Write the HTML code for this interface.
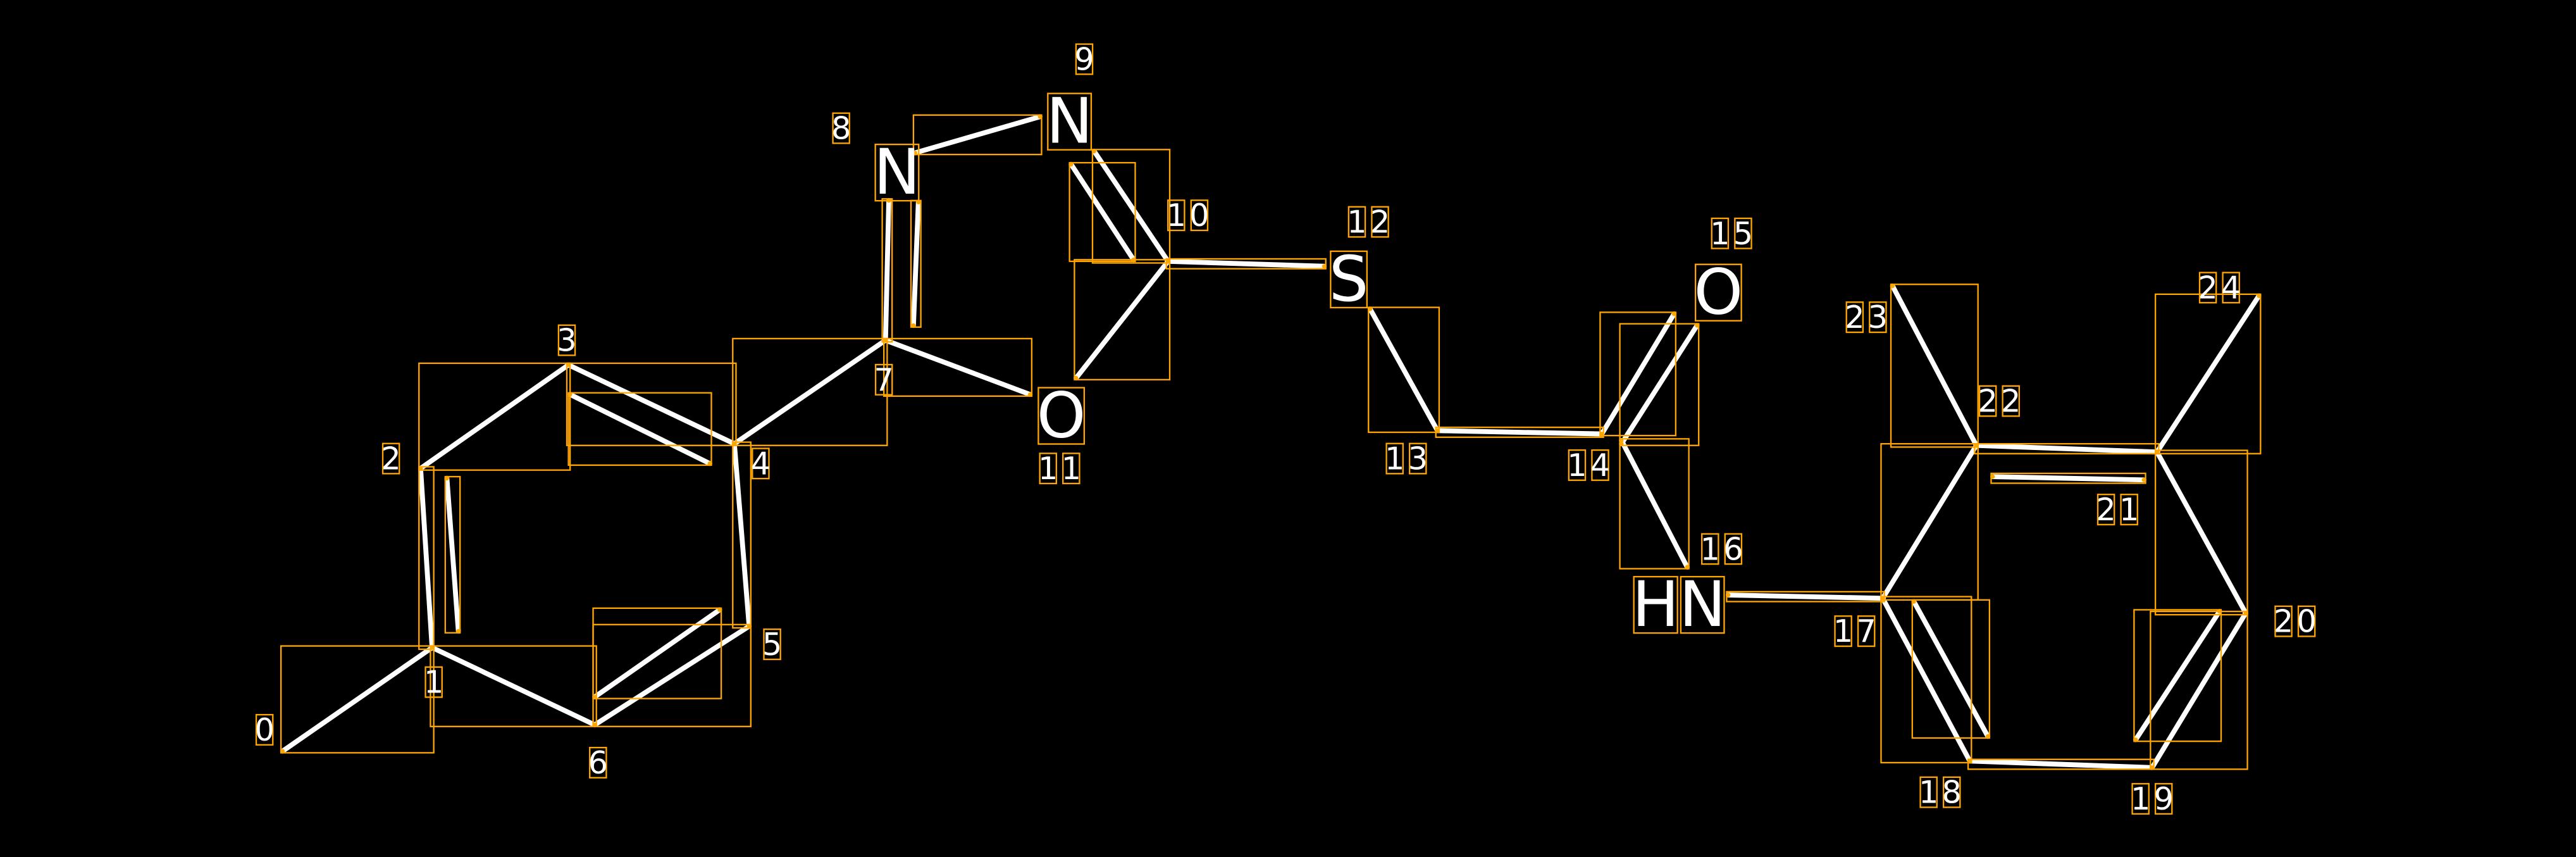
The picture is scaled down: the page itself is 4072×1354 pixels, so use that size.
<!DOCTYPE html>
<html><head><meta charset="utf-8"><style>
html,body{margin:0;padding:0;background:#000;width:4072px;height:1354px;overflow:hidden}
svg{display:block}
text{font-family:"DejaVu Sans","Liberation Sans",sans-serif;fill:#fff;dominant-baseline:central;text-anchor:middle}
.d{font-size:19px;letter-spacing:2px}
.a{font-size:38px}
</style></head><body>
<svg id="s" width="4072" height="1354" viewBox="0 0 1568 521.4" xmlns="http://www.w3.org/2000/svg">
<g id="bonds" stroke="#fff" stroke-width="3" stroke-linecap="round"></g>
<g id="boxes" fill="none" stroke="#ffa500" stroke-width="0.9"></g>
<g id="labels">
<text class="d" x="162" y="444">0</text>
<text class="d" x="265" y="415">1</text>
<text class="d" x="239" y="279">2</text>
<text class="d" x="346" y="207">3</text>
<text class="d" x="464" y="282">4</text>
<text class="d" x="471" y="392">5</text>
<text class="d" x="365" y="464">6</text>
<text class="d" x="539" y="231">7</text>
<text class="d" x="513" y="78">8</text>
<text class="d" x="661" y="36">9</text>
<text class="d" x="724" y="131">10</text>
<text class="d" x="646" y="285">11</text>
<text class="d" x="834" y="135">12</text>
<text class="d" x="857" y="279">13</text>
<text class="d" x="968" y="283">14</text>
<text class="d" x="1055" y="142">15</text>
<text class="d" x="1049" y="334">16</text>
<text class="d" x="1130" y="384">17</text>
<text class="d" x="1182" y="482">18</text>
<text class="d" x="1311" y="486">19</text>
<text class="d" x="1398" y="378">20</text>
<text class="d" x="1290" y="310">21</text>
<text class="d" x="1218" y="244">22</text>
<text class="d" x="1137" y="193">23</text>
<text class="d" x="1352" y="175">24</text>
<text class="a" x="546" y="105">N</text>
<text class="a" x="651" y="74">N</text>
<text class="a" x="646" y="253">O</text>
<text class="a" x="821" y="170">S</text>
<text class="a" x="1046" y="178">O</text>
<text class="a" x="1022" y="368">HN</text>
</g>
</svg>
<script>
var B=[
[172,457,263,394],[263,394,256,285],[272,291,279,384],[256,285,346,222],[346,222,447,270],
[347,240,432,282],[447,270,456,381],[456,381,362,441],[438,371,362,424],[362,441,263,394],
[447,270,539,207],[539,207,541,122],[559,123,556,198],[557,93,633,71],[666,92,711,159],
[652,100,690,158],[539,207,627,240],[711,159,655,230],[711,159,806,162],[834,188,875,262],
[875,262,975,264],[975,264,1019,191],[987,270,1033,198],[987,268,1027,345],[1052,362,1146,364],
[1146,364,1203,271],[1203,271,1152,174],[1203,271,1313,275],[1213,290,1305,292],[1313,275,1375,180],
[1313,275,1367,373],[1367,373,1310,467],[1351,372,1300,450],[1310,467,1199,463],[1199,463,1146,364],
[1165,366,1210,448]];
var ns="http://www.w3.org/2000/svg",bg=document.getElementById("bonds"),bx=document.getElementById("boxes");
function el(t,a,p){var e=document.createElementNS(ns,t);for(var k in a)e.setAttribute(k,a[k]);p.appendChild(e);return e;}
B.forEach(function(b){
 el("line",{x1:b[0],y1:b[1],x2:b[2],y2:b[3]},bg);
 var x=Math.min(b[0],b[2])-1,y=Math.min(b[1],b[3])-1,w=Math.abs(b[2]-b[0])+2,h=Math.abs(b[3]-b[1])+2;
 if(w<6){x-=(6-w)/2;w=6;} if(h<6){y-=(6-h)/2;h=6;}
 el("rect",{x:x,y:y,width:w,height:h},bx);
 el("circle",{cx:b[0],cy:b[1],r:1.3,fill:"#ffa500",stroke:"none"},bx);
 el("circle",{cx:b[2],cy:b[3],r:1.3,fill:"#ffa500",stroke:"none"},bx);
});
document.querySelectorAll("#labels text").forEach(function(t){
 var n=t.getNumberOfChars();
 for(var i=0;i<n;i++){var r=t.getExtentOfChar(i);
  var pad=t.classList.contains("a")?-3:0;
  el("rect",{x:r.x+1,y:r.y-pad+2,width:Math.max(r.width-2-(t.classList.contains("d")?2:0),4),height:r.height+2*pad-4},bx);}
});
</script>
</body></html>
